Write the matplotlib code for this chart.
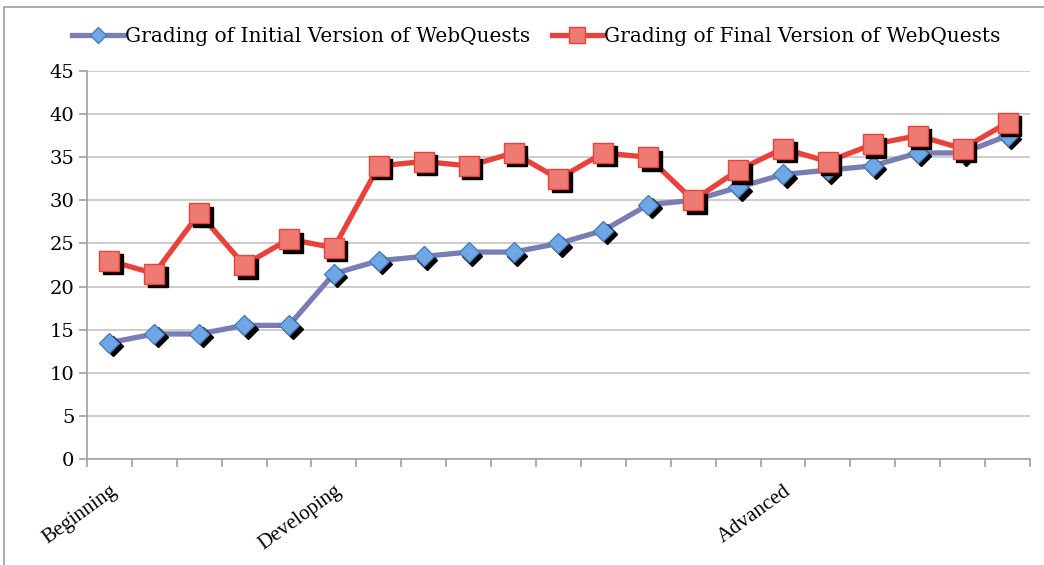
import numpy as np
import matplotlib
matplotlib.use("Agg")
import matplotlib.pyplot as plt
import matplotlib.transforms as mtransforms
from matplotlib.patches import Rectangle

# data
initial = [13.5, 14.5, 14.5, 15.5, 15.5, 21.5, 23, 23.5, 24, 24, 25, 26.5,
           29.5, 30, 31.5, 33, 33.5, 34, 35.5, 35.5, 37.5]
final = [23, 21.5, 28.5, 22.5, 25.5, 24.5, 34, 34.5, 34, 35.5, 32.5, 35.5,
         35, 30, 33.5, 36, 34.5, 36.5, 37.5, 36, 39]
label_pos = [0, 5, 15]
label_txt = ['Beginning', 'Developing', 'Advanced']

plt.rcParams['font.family'] = ['DejaVu Serif']

fig = plt.figure(figsize=(10.44, 5.65), dpi=100)
ax = fig.add_axes([0.0833, 0.1876, 0.9033, 0.6867])

# outer chart border
fig.patches.append(Rectangle((4 / 1044, -0.05), 1.2, 0.05 + 1 - 7 / 565,
                             transform=fig.transFigure, fill=False,
                             edgecolor='#a0a0a0', linewidth=1.2))

x = np.arange(len(initial))
shadow = ax.transData + mtransforms.ScaledTranslation(0.035, -0.035, fig.dpi_scale_trans)

# blue series
ax.plot(x, initial, color='#7a7db3', linewidth=3.8, zorder=3,
        solid_capstyle='round')
ax.plot(x, initial, linestyle='none', marker='D', markersize=10,
        color='black', transform=shadow, zorder=4)
ax.plot(x, initial, linestyle='none', marker='D', markersize=10,
        markerfacecolor='#6fa6e6', markeredgecolor='#4a7ebb',
        markeredgewidth=1, zorder=5)

# red series
ax.plot(x, final, color='#e8423b', linewidth=3.8, zorder=6)
ax.plot(x, final, linestyle='none', marker='s', markersize=14,
        color='black', transform=shadow, zorder=7)
ax.plot(x, final, linestyle='none', marker='s', markersize=14,
        markerfacecolor='#ee7b73', markeredgecolor='#e8423b',
        markeredgewidth=1, zorder=8)

# legend proxies
h1, = ax.plot([], [], color='#7a7db3', linewidth=3.8, marker='D', markersize=8,
              markerfacecolor='#6fa6e6', markeredgecolor='#4a7ebb')
h2, = ax.plot([], [], color='#e8423b', linewidth=3.8, marker='s', markersize=11,
              markerfacecolor='#ee7b73', markeredgecolor='#e8423b')
fig.legend([h1, h2], ['Grading of Initial Version of WebQuests',
                      'Grading of Final Version of WebQuests'],
           loc='center', bbox_to_anchor=(0.514, 0.936), ncol=2, frameon=False,
           fontsize=14.5, handlelength=2.5, handletextpad=0.1, columnspacing=1.1)

ax.set_xlim(-0.5, len(initial) - 0.5)
ax.set_ylim(0, 45)
ax.set_yticks(range(0, 46, 5))
ax.grid(axis='y', color='#c4c4c4', linewidth=1.2)
ax.set_axisbelow(True)

ax.set_xticks(label_pos)
ax.set_xticklabels(label_txt, rotation=36, ha='right', rotation_mode='anchor',
                   fontsize=15, family='Liberation Serif')
ax.set_xticks(np.arange(-0.5, len(initial), 1), minor=True)
ax.tick_params(axis='x', which='major', length=0, pad=16)
ax.tick_params(axis='x', which='minor', length=6, color='#a0a0a0', width=1.2)
ax.tick_params(axis='y', length=6, color='#a0a0a0', width=1.2, labelsize=14,
               pad=3)

for s in ['top', 'right']:
    ax.spines[s].set_visible(False)
for s in ['left', 'bottom']:
    ax.spines[s].set_color('#a0a0a0')
    ax.spines[s].set_linewidth(1.2)

fig.savefig('out.png', dpi=100)
